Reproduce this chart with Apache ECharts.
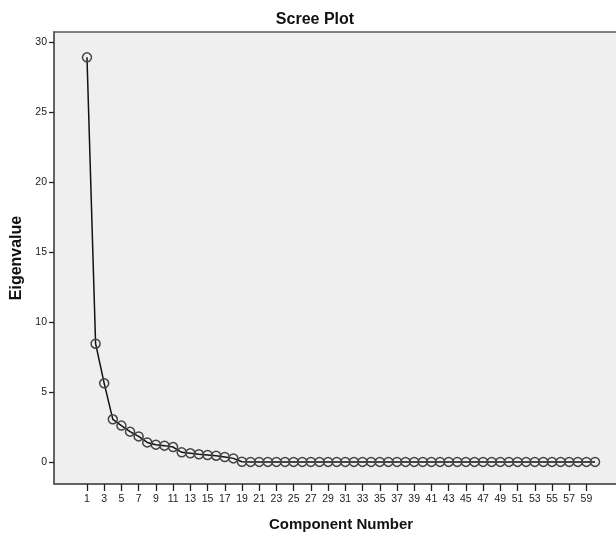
<!DOCTYPE html>
<html>
<head>
<meta charset="utf-8">
<script src="https://cdn.jsdelivr.net/npm/echarts@6/dist/echarts.min.js"></script>
<style>html,body{margin:0;padding:0;background:#fff}#c{width:616px;height:536px}</style>
</head>
<body>
<div id="c"></div>
<script>
const components = [1,2,3,4,5,6,7,8,9,10,11,12,13,14,15,16,17,18,19,20,21,22,23,24,25,26,27,28,29,30,31,32,33,34,35,36,37,38,39,40,41,42,43,44,45,46,47,48,49,50,51,52,53,54,55,56,57,58,59,60];
const eigenvalues = [28.9,8.45,5.62,3.05,2.6,2.17,1.83,1.4,1.24,1.17,1.07,0.69,0.62,0.55,0.5,0.45,0.36,0.26,0.02,0.01,0.01,0.01,0.01,0.01,0.01,0.01,0.01,0.01,0.01,0.01,0.01,0.01,0.01,0.01,0.01,0.01,0.01,0.01,0.01,0.01,0.01,0.01,0.01,0.01,0.01,0.01,0.01,0.01,0.01,0.01,0.01,0.01,0.01,0.01,0.01,0.01,0.01,0.01,0.01,0.01];
const xTicks = [1,3,5,7,9,11,13,15,17,19,21,23,25,27,29,31,33,35,37,39,41,43,45,47,49,51,53,55,57,59];
const yTicks = [0,5,10,15,20,25,30];

const chart = echarts.init(document.getElementById('c'), null, {renderer: 'canvas'});
const font = 'Liberation Sans, Arial, sans-serif';
chart.setOption({
  animation: false,
  title: {
    text: 'Scree Plot', left: 310, top: 7, textAlign: 'center',
    textStyle: {fontFamily: font, fontSize: 16, fontWeight: 'bold', color: '#111'}
  },
  grid: {
    left: 54, right: -4, top: 32, bottom: 52, outerBoundsMode: 'none', containLabel: false,
    show: true, backgroundColor: '#efefef', borderColor: '#5a5a5a', borderWidth: 1.5
  },
  xAxis: {
    type: 'value', min: -2.83, max: 62.9,
    name: 'Component Number', nameLocation: 'middle', nameGap: 33,
    nameTextStyle: {fontFamily: font, fontSize: 15, fontWeight: 'bold', color: '#111', padding: [0, 0, 0, 8]},
    axisLine: {show: true, onZero: false, lineStyle: {color: '#5a5a5a', width: 1.5}},
    axisTick: {show: true, length: 7, customValues: xTicks, lineStyle: {color: '#222', width: 1.3}},
    axisLabel: {customValues: xTicks, fontFamily: font, fontSize: 10.5, color: '#222', margin: 10},
    splitLine: {show: false}
  },
  yAxis: {
    type: 'value', min: -1.57, max: 30.71,
    name: 'Eigenvalue', nameLocation: 'middle', nameGap: 28, nameRotate: 90,
    nameTextStyle: {fontFamily: font, fontSize: 16, fontWeight: 'bold', color: '#111'},
    axisLine: {show: true, onZero: false, lineStyle: {color: '#5a5a5a', width: 1.5}},
    axisTick: {show: true, length: 5, customValues: yTicks, lineStyle: {color: '#222', width: 1.3}},
    axisLabel: {customValues: yTicks, fontFamily: font, fontSize: 10.5, color: '#222', margin: 7},
    splitLine: {show: false}
  },
  series: [{
    type: 'line',
    data: components.map((c, i) => [c, eigenvalues[i]]),
    symbol: 'circle', symbolSize: 9, showSymbol: true,
    itemStyle: {color: 'rgba(0,0,0,0)', borderColor: '#444', borderWidth: 1.5},
    lineStyle: {color: '#111', width: 1.5},
    emphasis: {disabled: true}
  }]
});
</script>
</body>
</html>
